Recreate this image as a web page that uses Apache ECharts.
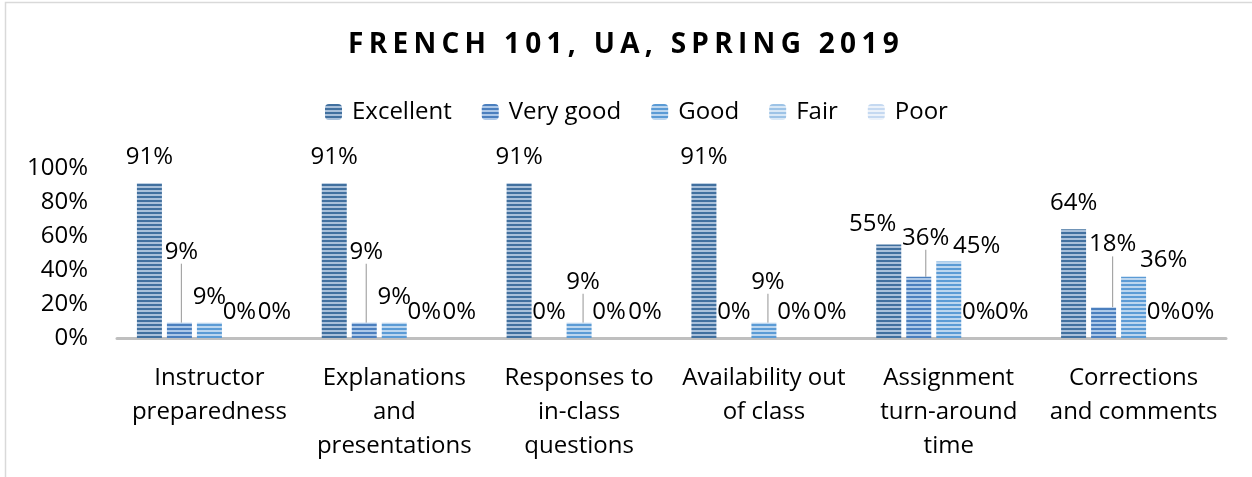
<!DOCTYPE html>
<html>
<head>
<meta charset="utf-8">
<script src="https://cdn.jsdelivr.net/npm/echarts@6/dist/echarts.min.js"></script>
<style>
	html, body { margin: 0; padding: 0; background: #ffffff; }
	#chart { width: 1252px; height: 477px; }
</style>
</head>
<body>
<div id="chart"></div>
<script>
// Data
const chartTitle = 'FRENCH 101, UA, SPRING 2019';
const categories = [
	'Instructor\npreparedness',
	'Explanations\nand\npresentations',
	'Responses to\nin-class\nquestions',
	'Availability out\nof class',
	'Assignment\nturn-around\ntime',
	'Corrections\nand comments'
];
const seriesNames = ['Excellent', 'Very good', 'Good', 'Fair', 'Poor'];
const excellent = [91, 91, 91, 91, 55, 64];
const veryGood = [9, 9, 0, 0, 36, 18];
const good = [9, 9, 9, 9, 45, 36];
const fair = [0, 0, 0, 0, 0, 0];
const poor = [0, 0, 0, 0, 0, 0];
const seriesValues = [excellent, veryGood, good, fair, poor];

// Styles
const FONT = 'Open Sans';
const TITLE_SPACING = 5.3;
const stripeColors = [
	['#41709f', '#a9c0da'],
	['#4b7fbe', '#adc8e8'],
	['#5b9bd5', '#bcd6ef'],
	['#9dc3e6', '#d9e8f6'],
	['#c5d9f1', '#ecf2fa']
];

// labels that were moved by hand: 'series-item': [dx, dy, leader line]
const labelNudge = {
	'1-0': [2, -45, true],
	'1-1': [2, -45, true],
	'2-2': [4, -15, true],
	'2-3': [4, -15, true],
	'4-0': [5, 0, false],
	'4-1': [5, 0, false],
	'4-2': [6, 0, false],
	'4-3': [6, 0, false],
	'0-4': [-16, 6, false],
	'1-4': [7, -13, true],
	'2-4': [28, 11, false],
	'4-4': [3, 0, false],
	'1-5': [9, -37, true],
	'2-5': [30, 9, false],
	'4-5': [4, 0, false]
};

// the title is letter-spaced; zrender has no option for it, so set it on the context
const origFillText = CanvasRenderingContext2D.prototype.fillText;
CanvasRenderingContext2D.prototype.fillText = function (text, x, y, maxWidth) {
	if (text === chartTitle) {
		let old = this.letterSpacing;
		let shift = this.textAlign === 'center' ? 0 : TITLE_SPACING * text.length / 2;
		this.letterSpacing = TITLE_SPACING + 'px';
		origFillText.call(this, text, x - shift, y);
		this.letterSpacing = old;
		return;
	};
	return origFillText.apply(this, arguments);
};

function stripes (dark, light) {
	let c = document.createElement('canvas');
	c.width = 4;
	c.height = 4;
	let ctx = c.getContext('2d');
	ctx.fillStyle = light;
	ctx.fillRect(0, 0, 4, 4);
	ctx.fillStyle = dark;
	ctx.fillRect(0, 0, 4, 2);
	return { image: c, repeat: 'repeat' };
};

let series = seriesNames.map(function (name, s) {
	return {
		name: name,
		type: 'bar',
		barWidth: 25,
		barGap: '20%',
		itemStyle: { color: stripes(stripeColors[s][0], stripeColors[s][1]) },
		label: {
			show: true,
			position: 'top',
			distance: 14,
			formatter: '{c}%',
			color: '#000000',
			fontFamily: FONT,
			fontSize: 24
		},
		labelLine: { show: true, lineStyle: { color: '#a6a6a6', width: 1.2 } },
		labelLayout: function (p) {
			let n = labelNudge[p.seriesIndex + '-' + p.dataIndex];
			return n ? { dx: n[0], dy: n[1] } : {};
		},
		data: seriesValues[s].map(function (v, i) {
			let n = labelNudge[s + '-' + i];
			return { value: v, labelLine: { show: !!(n && n[2]) } };
		})
	};
});

let myChart = echarts.init(document.getElementById('chart'));
myChart.setOption({
	animation: false,
	title: {
		text: chartTitle,
		left: 'center',
		top: 26,
		padding: [5, 0, 5, 12],
		textStyle: { fontFamily: FONT, fontWeight: 'bold', fontSize: 28, color: '#000000' }
	},
	legend: {
		data: seriesNames,
		top: 100,
		left: 325,
		itemWidth: 17,
		itemHeight: 16,
		itemGap: 30,
		padding: 0,
		textStyle: { fontFamily: FONT, fontSize: 24, color: '#000000', padding: [0, 0, 0, 5] }
	},
	graphic: [{
		type: 'rect',
		shape: { x: 5.5, y: 2.5, width: 1300, height: 600 },
		style: { fill: 'none', stroke: '#d9d9d9', lineWidth: 1.5 },
		silent: true
	}],
	grid: { left: 117, right: 26, top: 168, bottom: 139 },
	xAxis: {
		type: 'category',
		data: categories,
		axisLine: { lineStyle: { color: '#bfbfbf', width: 3 } },
		axisTick: { show: false },
		axisLabel: {
			interval: 0,
			margin: 23,
			color: '#000000',
			fontFamily: FONT,
			fontSize: 24,
			lineHeight: 34
		}
	},
	yAxis: {
		type: 'value',
		min: 0,
		max: 100,
		interval: 20,
		axisLine: { show: false },
		axisTick: { show: false },
		splitLine: { show: false },
		axisLabel: {
			formatter: '{value}%',
			margin: 29,
			color: '#000000',
			fontFamily: FONT,
			fontSize: 24
		}
	},
	series: series
});
</script>
</body>
</html>
